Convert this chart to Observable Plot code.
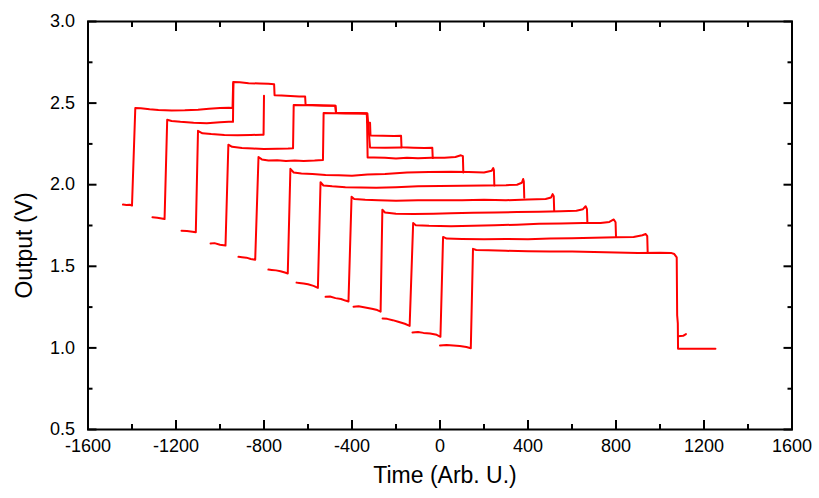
<!DOCTYPE html>
<html>
<head>
<meta charset="utf-8">
<script src="https://cdn.jsdelivr.net/npm/d3@7"></script>
<script src="https://cdn.jsdelivr.net/npm/@observablehq/plot@0.6"></script>
<style>
  html, body { margin: 0; padding: 0; background: #fff; }
</style>
</head>
<body>
<div id="chart"></div>
<script>
// ---- tick values ----
const xMajor = [-1600, -1200, -800, -400, 0, 400, 800, 1200, 1600];
const xMinor = [-1400, -1000, -600, -200, 200, 600, 1000, 1400];
const yMajor = [0.5, 1.0, 1.5, 2.0, 2.5, 3.0];
const yMinor = [0.75, 1.25, 1.75, 2.25, 2.75];

// ---- traces: [time, output] ----
const t01 = [[-1441,1.878],[-1425,1.876],[-1410,1.877],[-1400,1.872],
  [-1385,2.47],[-1360,2.468],[-1320,2.462],[-1280,2.458],[-1220,2.455],[-1160,2.456],[-1100,2.46],[-1050,2.465],[-1000,2.47],[-960,2.472],[-943,2.47],
  [-940,2.63],[-910,2.628],[-870,2.622],[-820,2.62],[-780,2.618],[-754,2.615],
  [-752,2.548],[-720,2.546],[-680,2.543],[-640,2.54],[-613,2.54],
  [-611,2.49],[-580,2.488],[-530,2.486],[-475,2.484],
  [-472,2.44],[-430,2.438],[-380,2.44],[-333,2.436],
  [-331,2.381],[-318,2.38],
  [-316,2.302],[-260,2.3],[-210,2.298],[-177,2.3],
  [-175,2.229],[-120,2.227],[-70,2.225],[-35,2.226],
  [-33,2.163]];
const t02 = [[-1307,1.80],[-1285,1.798],[-1265,1.793],[-1252,1.79],[-1240,2.398],[-1220,2.39],[-1180,2.385],[-1120,2.38],[-1060,2.377],[-1000,2.383],[-960,2.385],[-941,2.385],[-939,2.62]];
const t03 = [[-1175,1.718],[-1150,1.716],[-1125,1.712],[-1110,1.708],[-1100,2.33],[-1080,2.315],[-1040,2.31],[-980,2.305],[-920,2.303],[-860,2.305],[-810,2.306],[-802,2.306],[-800,2.545]];
const t04 = [[-1043,1.64],[-1025,1.642],[-1000,1.632],[-975,1.627],[-962,2.245],[-945,2.232],[-900,2.225],[-850,2.222],[-800,2.218],[-740,2.22],[-690,2.222],[-668,2.224],[-665,2.488],[-600,2.487],[-476,2.484],[-473,2.44],[-330,2.437],[-318,2.228],[-250,2.226],[-175,2.228]];
const t05 = [[-916,1.558],[-900,1.556],[-880,1.553],[-860,1.545],[-840,1.54],[-825,2.17],[-810,2.155],[-780,2.148],[-740,2.15],[-700,2.145],[-660,2.148],[-620,2.145],[-570,2.148],[-532,2.152],[-529,2.44],[-480,2.438],[-420,2.44],[-370,2.438],[-332,2.436],[-329,2.167],[-300,2.167],[-250,2.165],[-200,2.16],[-150,2.165],[-100,2.162],[-40,2.165],[20,2.165],[70,2.17],[95,2.18],[104,2.175],[106,2.075]];
const t06 = [[-780,1.48],[-765,1.478],[-745,1.475],[-725,1.47],[-705,1.462],[-692,1.456],[-680,2.097],[-665,2.075],[-630,2.068],[-580,2.065],[-520,2.06],[-460,2.058],[-400,2.055],[-330,2.062],[-250,2.065],[-150,2.075],[-50,2.078],[50,2.08],[130,2.078],[200,2.075],[235,2.085],[242,2.102],[245,2.09],[247,1.995]];
const t07 = [[-652,1.40],[-640,1.398],[-620,1.395],[-600,1.39],[-575,1.38],[-555,1.368],[-543,2.015],[-530,1.995],[-490,1.99],[-430,1.985],[-360,1.983],[-290,1.982],[-200,1.985],[-100,1.99],[0,1.992],[100,1.993],[200,1.995],[300,1.997],[350,2.0],[372,2.012],[378,2.035],[381,2.02],[383,1.92]];
const t08 = [[-520,1.313],[-500,1.315],[-475,1.305],[-450,1.3],[-430,1.29],[-416,1.284],[-402,1.926],[-390,1.912],[-340,1.908],[-280,1.905],[-200,1.902],[-100,1.905],[0,1.904],[100,1.905],[200,1.908],[300,1.905],[400,1.91],[480,1.912],[505,1.922],[512,1.942],[517,1.93],[519,1.84]];
const t09 = [[-393,1.252],[-370,1.255],[-340,1.248],[-310,1.24],[-285,1.232],[-270,1.222],[-262,1.846],[-250,1.83],[-200,1.822],[-120,1.82],[-30,1.822],[50,1.825],[150,1.828],[250,1.83],[350,1.832],[450,1.835],[550,1.838],[620,1.84],[650,1.85],[662,1.868],[668,1.85],[670,1.765]];
const t10 = [[-261,1.18],[-240,1.178],[-215,1.17],[-190,1.16],[-160,1.148],[-138,1.135],[-122,1.765],[-110,1.752],[-50,1.748],[50,1.745],[150,1.748],[250,1.752],[350,1.755],[450,1.76],[550,1.762],[650,1.765],[730,1.765],[770,1.772],[790,1.787],[798,1.77],[800,1.683]];
const t11 = [[-125,1.095],[-100,1.098],[-75,1.092],[-45,1.088],[-15,1.08],[2,1.068],[14,1.68],[30,1.67],[100,1.668],[200,1.665],[300,1.668],[400,1.665],[500,1.67],[600,1.672],[700,1.675],[800,1.678],[880,1.68],[920,1.69],[935,1.698],[942,1.685],[944,1.585]];
const t12 = [[0,1.015],[30,1.018],[60,1.015],[90,1.012],[120,1.005],[140,0.998],[150,1.607],[165,1.6],[220,1.598],[300,1.595],[400,1.592],[500,1.59],[600,1.59],[700,1.588],[800,1.585],[900,1.582],[1000,1.583],[1050,1.582],[1065,1.575],[1076,1.555],[1078,1.2],[1081,1.15],[1082,0.995],[1150,0.995],[1252,0.995]];
const tStub = [[1083,1.072],[1105,1.074],[1118,1.085]];

const traces = [t01, t02, t03, t04, t05, t06, t07, t08, t09, t10, t11, t12, tStub];
const rows = traces.flatMap((t, i) => t.map(([x, y]) => ({x, y, trace: i})));

const W = 819, H = 498;
const mL = 87.5, mR = 27.5, mT = 21, mB = 69;
const xDom = [-1600, 1600], yDom = [0.5, 3.0];
const majorLen = 9, minorLen = 5;
const blank = () => "";
// inward tick marks made with Plot's own axes, shifted inside the frame
const inwardTicks = (len, xs, ys) => [
  Plot.axisX(xs, {anchor: "bottom", tickSize: len, dy: -len, tickFormat: blank, label: null, strokeWidth: 2}),
  Plot.axisX(xs, {anchor: "top", tickSize: len, dy: len, tickFormat: blank, label: null, strokeWidth: 2}),
  Plot.axisY(ys, {anchor: "left", tickSize: len, dx: len, tickFormat: blank, label: null, strokeWidth: 2}),
  Plot.axisY(ys, {anchor: "right", tickSize: len, dx: -len, tickFormat: blank, label: null, strokeWidth: 2})
];

const chart = Plot.plot({
  width: W, height: H,
  marginLeft: mL, marginRight: mR, marginTop: mT, marginBottom: mB,
  style: {fontFamily: "'Liberation Sans', Arial, sans-serif", fontSize: "18px", background: "white", color: "black"},
  x: {domain: xDom},
  y: {domain: yDom},
  marks: [
    Plot.axisX(xMajor, {anchor: "bottom", tickSize: 0, tickPadding: 10, tickFormat: d => String(d), label: null, fontSize: 18}),
    Plot.axisY(yMajor, {anchor: "left", tickSize: 0, tickPadding: 13, tickFormat: d => d.toFixed(1), label: null, fontSize: 18}),
    Plot.line(rows, {x: "x", y: "y", z: "trace", stroke: "#ff0000", strokeWidth: 2, strokeLinejoin: "round"}),
    ...inwardTicks(majorLen, xMajor, yMajor),
    ...inwardTicks(minorLen, xMinor, yMinor),
    Plot.frame({stroke: "black", strokeWidth: 2}),
    Plot.text(["Time (Arb. U.)"], {frameAnchor: "bottom", dx: 5, dy: 46, text: d => d, fontSize: 23, lineAnchor: "middle", textAnchor: "middle", fill: "black"}),
    Plot.text(["Output (V)"], {frameAnchor: "left", dx: -63, dy: 20, rotate: -90, text: d => d, fontSize: 23, lineAnchor: "middle", textAnchor: "middle", fill: "black"})
  ]
});
document.getElementById("chart").appendChild(chart);
</script>
</body>
</html>
